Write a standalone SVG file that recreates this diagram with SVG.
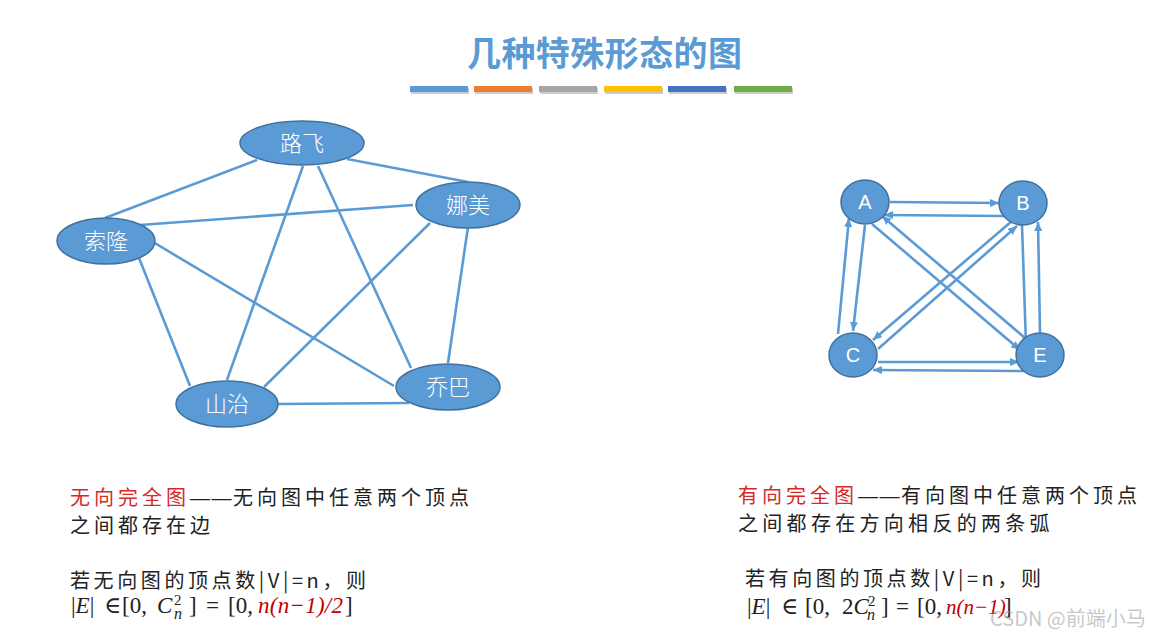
<svg xmlns="http://www.w3.org/2000/svg" width="1169" height="639" viewBox="0 0 1169 639">
<defs>
<style>
.edge{stroke:#5B9BD5;stroke-width:2.6;fill:none}
.arc{stroke:#5B9BD5;stroke-width:2.6;fill:none;marker-end:url(#ah)}
.node{fill:#5B9BD5;stroke:#41719C;stroke-width:1.5}
.lbl{font-family:"Noto Sans CJK SC","Noto Sans",sans-serif;font-size:22px;font-weight:300;fill:#fff;text-anchor:middle}
.lbl2{font-family:"Liberation Sans","Noto Sans",sans-serif;font-size:20px;fill:#fff;text-anchor:middle}
.txt{font-family:"Noto Sans CJK SC","Noto Sans",sans-serif;font-size:20px;fill:#222;letter-spacing:4px}
.dash{font-family:"Liberation Sans",sans-serif;letter-spacing:1.5px}
.red{fill:#D42A2A}
.math{font-family:"Liberation Serif","DejaVu Serif",serif;font-size:23px;fill:#222}
.it{font-style:italic}
.mred{fill:#C00000;font-style:italic}
</style>
<marker id="ah" viewBox="0 0 9 8" refX="9" refY="4" markerWidth="9" markerHeight="8" markerUnits="userSpaceOnUse" orient="auto">
<path d="M0,0 L9,4 L0,8 z" fill="#5B9BD5"/>
</marker>
</defs>
<rect width="1169" height="639" fill="#fff"/>

<text x="467" y="66" font-family="'Noto Sans CJK SC',sans-serif" font-size="34" font-weight="bold" fill="#5B9BD5" textLength="275">几种特殊形态的图</text>
<g id="bars">
<rect x="411" y="88" width="58" height="6" fill="#ccc"/>
<rect x="475" y="88" width="58" height="6" fill="#ccc"/>
<rect x="540" y="88" width="58" height="6" fill="#ccc"/>
<rect x="605" y="88" width="58" height="6" fill="#ccc"/>
<rect x="669" y="88" width="58" height="6" fill="#ccc"/>
<rect x="735" y="88" width="58" height="6" fill="#ccc"/>
<rect x="410" y="86" width="58" height="6" fill="#5B9BD5"/>
<rect x="474" y="86" width="58" height="6" fill="#ED7D31"/>
<rect x="539" y="86" width="58" height="6" fill="#A5A5A5"/>
<rect x="604" y="86" width="58" height="6" fill="#FFC000"/>
<rect x="668" y="86" width="58" height="6" fill="#4472C4"/>
<rect x="734" y="86" width="58" height="6" fill="#70AD47"/>
</g>

<g id="connectors-undirected">
<line class="edge" x1="257" y1="160" x2="105" y2="218"/>
<line class="edge" x1="347" y1="159" x2="468" y2="182"/>
<line class="edge" x1="303" y1="166" x2="227" y2="380"/>
<line class="edge" x1="318" y1="166" x2="411" y2="368"/>
<line class="edge" x1="140" y1="225" x2="413" y2="205"/>
<line class="edge" x1="139" y1="258" x2="190" y2="386"/>
<line class="edge" x1="153" y1="242" x2="394" y2="386"/>
<line class="edge" x1="430" y1="223" x2="264" y2="387"/>
<line class="edge" x1="468" y1="227" x2="448" y2="363"/>
<line class="edge" x1="277" y1="404" x2="409" y2="403"/>
</g>

<g id="n-lufei"><ellipse class="node" cx="302" cy="143" rx="62" ry="22"/><text class="lbl" x="302" y="151">路飞</text></g>
<g id="n-namei"><ellipse class="node" cx="468" cy="205" rx="52" ry="23"/><text class="lbl" x="468" y="213">娜美</text></g>
<g id="n-suolong"><ellipse class="node" cx="106" cy="241" rx="49" ry="23"/><text class="lbl" x="106" y="249">索隆</text></g>
<g id="n-shanzhi"><ellipse class="node" cx="227" cy="404" rx="51" ry="23"/><text class="lbl" x="227" y="412">山治</text></g>
<g id="n-qiaoba"><ellipse class="node" cx="448" cy="387" rx="52" ry="23"/><text class="lbl" x="448" y="395">乔巴</text></g>

<g id="connectors-directed">
<line class="arc" x1="890" y1="202" x2="999" y2="203"/>
<line class="arc" x1="1004" y1="216" x2="884" y2="215"/>
<line class="arc" x1="865" y1="225" x2="853" y2="331"/>
<line class="arc" x1="838" y1="334" x2="849" y2="218"/>
<line class="arc" x1="872" y1="224" x2="1020" y2="350"/>
<line class="arc" x1="1025" y1="338" x2="882" y2="216"/>
<line class="arc" x1="1012" y1="221" x2="873" y2="340"/>
<line class="arc" x1="878" y1="349" x2="1017" y2="226"/>
<line class="arc" x1="1022" y1="225" x2="1026" y2="345"/>
<line class="arc" x1="1040" y1="333" x2="1038" y2="222"/>
<line class="arc" x1="878" y1="362" x2="1019" y2="362"/>
<line class="arc" x1="1024" y1="371" x2="873" y2="370"/>
</g>

<g id="n-A"><ellipse class="node" cx="865" cy="202" rx="24" ry="22"/><text class="lbl2" x="865" y="209">A</text></g>
<g id="n-B"><ellipse class="node" cx="1023" cy="203" rx="24" ry="22"/><text class="lbl2" x="1023" y="210">B</text></g>
<g id="n-C"><ellipse class="node" cx="853" cy="355" rx="24" ry="22"/><text class="lbl2" x="853" y="362">C</text></g>
<g id="n-E"><ellipse class="node" cx="1040" cy="355" rx="24" ry="22"/><text class="lbl2" x="1040" y="362">E</text></g>

<g id="text-left">
<text class="txt" x="70" y="505"><tspan class="red">无向完全图</tspan><tspan class="dash">——</tspan>无向图中任意两个顶点</text>
<text class="txt" x="70" y="533">之间都存在边</text>
<text class="txt" x="70" y="588" style="letter-spacing:3.6px">若无向图的顶点数|V|=n，则</text>
<text class="math" y="613"><tspan x="71">|</tspan><tspan class="it">E</tspan><tspan>|</tspan><tspan x="104">∈</tspan><tspan x="122">[0,</tspan><tspan x="157" class="it">C</tspan><tspan x="174" dy="-8" font-size="15">2</tspan><tspan x="174" dy="14" font-size="16" class="it">n</tspan><tspan x="189" dy="-6">]</tspan><tspan x="206">=</tspan><tspan x="228">[0,</tspan><tspan x="258" class="mred" textLength="85">n(n−1)/2</tspan><tspan x="345">]</tspan></text>
</g>

<g id="text-right">
<text class="txt" x="738" y="503"><tspan class="red">有向完全图</tspan><tspan class="dash">——</tspan>有向图中任意两个顶点</text>
<text class="txt" x="738" y="531" style="letter-spacing:4.3px">之间都存在方向相反的两条弧</text>
<text class="txt" x="745" y="586" style="letter-spacing:3.6px">若有向图的顶点数|V|=n，则</text>
<text class="math" y="614"><tspan x="747">|</tspan><tspan class="it">E</tspan><tspan>|</tspan><tspan x="781">∈</tspan><tspan x="805">[0,</tspan><tspan x="842">2</tspan><tspan class="it">C</tspan><tspan x="868" dy="-8" font-size="15">2</tspan><tspan x="867" dy="14" font-size="16" class="it">n</tspan><tspan x="881" dy="-6">]</tspan><tspan x="896">=</tspan><tspan x="917">[0,</tspan><tspan x="946" class="mred" font-size="21">n(n−1)</tspan><tspan x="1004">]</tspan></text>
</g>

<text x="990" y="626" font-family="'Noto Sans CJK SC',sans-serif" font-size="20" fill="#999" fill-opacity="0.55">CSDN @前端小马</text>
</svg>
